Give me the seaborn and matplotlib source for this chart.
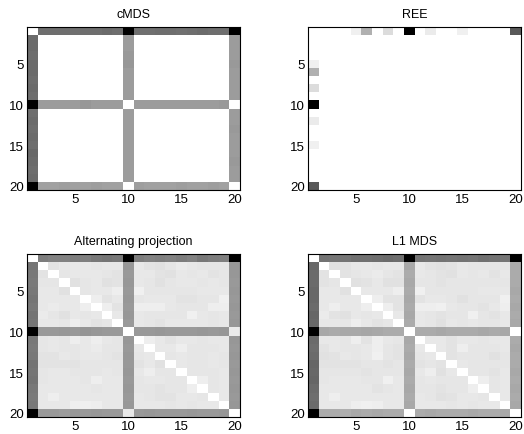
import numpy as np
import pandas as pd
import matplotlib
matplotlib.use("Agg")
import matplotlib.pyplot as plt
import seaborn as sns

# ---------------- data (error magnitude, 0 = white, 100 = black) ----------------
points = list(range(1, 21))
tick_values = [5, 10, 15, 20]
titles = ["cMDS", "REE", "Alternating projection", "L1 MDS"]

cmds = [
    [0, 57, 57, 57, 56, 57, 57, 58, 57, 100, 56, 56, 57, 57, 56, 57, 58, 57, 57, 100],
    [58, 0, 0, 0, 0, 0, 0, 0, 0, 39, 0, 0, 0, 0, 0, 0, 0, 0, 0, 39],
    [58, 0, 0, 0, 0, 0, 0, 0, 0, 39, 0, 0, 0, 0, 0, 0, 0, 0, 0, 39],
    [57, 0, 0, 0, 0, 0, 0, 0, 0, 40, 0, 0, 0, 0, 0, 0, 0, 0, 0, 39],
    [58, 0, 0, 0, 0, 0, 0, 0, 0, 41, 0, 0, 0, 0, 0, 0, 0, 0, 0, 40],
    [58, 0, 0, 0, 0, 0, 0, 0, 0, 39, 0, 0, 0, 0, 0, 0, 0, 0, 0, 39],
    [57, 0, 0, 0, 0, 0, 0, 0, 0, 39, 0, 0, 0, 0, 0, 0, 0, 0, 0, 39],
    [58, 0, 0, 0, 0, 0, 0, 0, 0, 39, 0, 0, 0, 0, 0, 0, 0, 0, 0, 39],
    [57, 0, 0, 0, 0, 0, 0, 0, 0, 39, 0, 0, 0, 0, 0, 0, 0, 0, 0, 39],
    [100, 39, 39, 39, 39, 41, 39, 39, 39, 0, 39, 39, 39, 39, 39, 39, 39, 39, 40, 0],
    [57, 0, 0, 0, 0, 0, 0, 0, 0, 39, 0, 0, 0, 0, 0, 0, 0, 0, 0, 39],
    [58, 0, 0, 0, 0, 0, 0, 0, 0, 39, 0, 0, 0, 0, 0, 0, 0, 0, 0, 39],
    [57, 0, 0, 0, 0, 0, 0, 0, 0, 39, 0, 0, 0, 0, 0, 0, 0, 0, 0, 40],
    [58, 0, 0, 0, 0, 0, 0, 0, 0, 39, 0, 0, 0, 0, 0, 0, 0, 0, 0, 39],
    [57, 0, 0, 0, 0, 0, 0, 0, 0, 39, 0, 0, 0, 0, 0, 0, 0, 0, 0, 39],
    [59, 0, 0, 0, 0, 0, 0, 0, 0, 39, 0, 0, 0, 0, 0, 0, 0, 0, 0, 39],
    [58, 0, 0, 0, 0, 0, 0, 0, 0, 39, 0, 0, 0, 0, 0, 0, 0, 0, 0, 40],
    [57, 0, 0, 0, 0, 0, 0, 0, 0, 39, 0, 0, 0, 0, 0, 0, 0, 0, 0, 39],
    [58, 0, 0, 0, 0, 0, 0, 0, 0, 39, 0, 0, 0, 0, 0, 0, 0, 0, 0, 39],
    [100, 37, 37, 38, 37, 37, 38, 37, 37, 0, 38, 37, 37, 37, 38, 37, 37, 38, 37, 0],
]

ree_row1 = [0, 0, 0, 0, 6, 31, 0, 14, 0, 100, 0, 8, 0, 0, 6, 0, 0, 0, 0, 65]
ree_col1 = [0, 0, 0, 0, 6, 31, 0, 14, 0, 100, 0, 8, 0, 0, 6, 0, 0, 0, 0, 65]

alt_proj = [
    [0, 51, 49, 49, 51, 50, 53, 54, 53, 100, 51, 49, 50, 49, 51, 49, 53, 51, 50, 100],
    [54, 0, 11, 9, 9, 9, 10, 9, 9, 41, 9, 11, 12, 10, 8, 9, 10, 10, 10, 41],
    [53, 11, 0, 10, 9, 9, 9, 10, 11, 40, 9, 9, 11, 12, 9, 10, 9, 11, 10, 41],
    [52, 10, 10, 0, 12, 10, 9, 12, 11, 41, 9, 10, 12, 10, 9, 9, 10, 9, 10, 40],
    [53, 9, 9, 12, 0, 10, 9, 9, 7, 40, 6, 10, 10, 10, 10, 10, 9, 9, 9, 41],
    [54, 9, 9, 9, 9, 0, 7, 11, 9, 41, 10, 9, 9, 9, 11, 11, 10, 10, 6, 40],
    [53, 9, 8, 9, 9, 7, 0, 7, 11, 40, 7, 7, 7, 9, 10, 10, 10, 7, 7, 41],
    [55, 8, 10, 12, 9, 10, 9, 0, 9, 41, 9, 10, 10, 10, 10, 6, 9, 10, 9, 40],
    [54, 9, 9, 10, 7, 9, 11, 10, 0, 40, 9, 10, 11, 9, 9, 9, 9, 10, 9, 41],
    [100, 40, 40, 41, 40, 42, 41, 40, 40, 0, 40, 40, 41, 40, 40, 40, 41, 40, 41, 8],
    [53, 10, 9, 10, 7, 9, 7, 9, 10, 41, 0, 7, 9, 11, 9, 9, 10, 9, 9, 41],
    [52, 10, 9, 10, 10, 9, 8, 10, 10, 40, 9, 0, 9, 9, 7, 10, 10, 10, 9, 40],
    [53, 11, 11, 9, 10, 9, 9, 10, 11, 41, 10, 9, 0, 10, 9, 10, 10, 9, 10, 41],
    [55, 11, 11, 11, 11, 10, 10, 10, 10, 40, 11, 9, 12, 0, 9, 10, 10, 9, 10, 40],
    [54, 10, 9, 9, 10, 10, 10, 9, 10, 41, 9, 7, 10, 10, 0, 10, 10, 10, 9, 41],
    [55, 10, 9, 9, 9, 10, 7, 9, 9, 40, 10, 9, 9, 10, 10, 0, 7, 10, 9, 40],
    [53, 9, 9, 9, 9, 9, 10, 9, 9, 41, 10, 10, 11, 10, 10, 7, 0, 10, 9, 41],
    [52, 9, 7, 9, 9, 9, 9, 9, 9, 40, 9, 10, 11, 11, 9, 9, 10, 0, 9, 40],
    [53, 9, 9, 9, 7, 6, 7, 9, 9, 41, 9, 9, 9, 10, 9, 10, 9, 9, 0, 41],
    [100, 40, 40, 39, 41, 40, 41, 40, 40, 9, 40, 41, 40, 40, 40, 41, 40, 40, 41, 0],
]

l1_mds = [
    [0, 55, 54, 54, 56, 56, 57, 58, 57, 100, 55, 54, 55, 54, 55, 54, 56, 55, 54, 100],
    [59, 0, 12, 11, 9, 9, 10, 9, 9, 34, 9, 11, 12, 11, 9, 10, 10, 10, 10, 33],
    [58, 11, 0, 11, 10, 9, 8, 10, 11, 33, 9, 10, 11, 12, 9, 10, 9, 11, 9, 33],
    [58, 11, 10, 0, 12, 11, 9, 12, 12, 34, 10, 10, 11, 10, 10, 10, 10, 10, 10, 33],
    [59, 9, 9, 12, 0, 9, 9, 9, 7, 33, 6, 10, 10, 10, 10, 10, 9, 9, 9, 34],
    [59, 9, 9, 9, 9, 0, 7, 11, 11, 34, 11, 9, 9, 10, 12, 10, 10, 10, 6, 33],
    [58, 9, 7, 9, 9, 7, 0, 7, 11, 33, 7, 7, 6, 9, 10, 10, 11, 9, 7, 34],
    [60, 8, 11, 12, 9, 10, 9, 0, 9, 34, 9, 10, 11, 10, 10, 6, 10, 11, 9, 33],
    [59, 9, 9, 10, 7, 9, 11, 10, 0, 33, 9, 10, 12, 9, 10, 9, 10, 10, 9, 34],
    [100, 34, 33, 34, 34, 35, 34, 33, 33, 0, 33, 33, 34, 33, 33, 33, 34, 33, 34, 0],
    [58, 9, 9, 10, 7, 11, 7, 9, 10, 34, 0, 9, 9, 11, 9, 9, 10, 9, 9, 33],
    [57, 11, 9, 10, 10, 9, 7, 10, 11, 33, 9, 0, 9, 11, 7, 10, 10, 10, 9, 34],
    [58, 12, 11, 9, 10, 9, 6, 10, 11, 34, 10, 9, 0, 11, 10, 10, 10, 12, 10, 33],
    [60, 11, 11, 11, 11, 10, 10, 11, 10, 33, 11, 10, 11, 0, 9, 10, 10, 10, 10, 33],
    [59, 10, 10, 10, 10, 11, 10, 10, 10, 34, 9, 7, 12, 9, 0, 10, 10, 11, 9, 34],
    [60, 10, 9, 9, 9, 10, 10, 6, 9, 33, 10, 9, 10, 10, 10, 0, 7, 10, 9, 33],
    [58, 9, 9, 9, 9, 9, 11, 10, 9, 34, 10, 10, 11, 10, 10, 7, 0, 10, 9, 34],
    [57, 9, 7, 9, 9, 9, 9, 9, 9, 33, 9, 10, 12, 11, 9, 9, 10, 0, 9, 33],
    [58, 9, 9, 9, 7, 6, 7, 9, 9, 34, 9, 9, 9, 10, 9, 10, 9, 9, 0, 34],
    [100, 33, 33, 32, 34, 33, 34, 33, 33, 0, 33, 34, 33, 33, 33, 34, 33, 33, 34, 0],
]

# ---------------- build REE matrix from its row / column ----------------
ree = np.zeros((20, 20))
ree[0, :] = ree_row1
ree[:, 0] = ree_col1

matrices = [np.array(cmds, dtype=float), ree,
            np.array(alt_proj, dtype=float), np.array(l1_mds, dtype=float)]

# ---------------- figure ----------------
sns.set_theme(style="white")
plt.rcParams["font.family"] = ["Liberation Sans", "DejaVu Sans"]

W, H = 524, 435
fig = plt.figure(figsize=(W / 100, H / 100), dpi=100)

# axes boxes in pixels: (left, top, right, bottom)
boxes = [(27, 28, 240, 191), (308, 28, 521, 191),
         (27, 255, 240, 418), (308, 255, 521, 418)]

for title, mat, (l, t, r, b) in zip(titles, matrices, boxes):
    ax = fig.add_axes([l / W, (H - b) / H, (r - l) / W, (b - t) / H])
    df = pd.DataFrame(mat, index=points, columns=points)
    sns.heatmap(df, ax=ax, cmap="gray_r", vmin=0, vmax=100, cbar=False,
                xticklabels=False, yticklabels=False, linewidths=0)
    pos = [points.index(v) + 0.5 for v in tick_values]
    ax.set_xticks(pos)
    ax.set_xticklabels([str(v) for v in tick_values])
    ax.set_yticks(pos)
    ax.set_yticklabels([str(v) for v in tick_values], rotation=0)
    ax.set_xlabel("")
    ax.set_ylabel("")
    for s in ax.spines.values():
        s.set_visible(True)
        s.set_color("black")
        s.set_linewidth(0.8)
    ax.tick_params(axis="both", direction="in", length=3, width=0.6,
                   bottom=True, top=True, left=True, right=True,
                   labelbottom=True, labelleft=True, labeltop=False, labelright=False,
                   labelsize=9.5, pad=2, colors="black")
    ax.set_title(title, fontsize=9, pad=7, color="black")

fig.savefig("out.png", dpi=100)
